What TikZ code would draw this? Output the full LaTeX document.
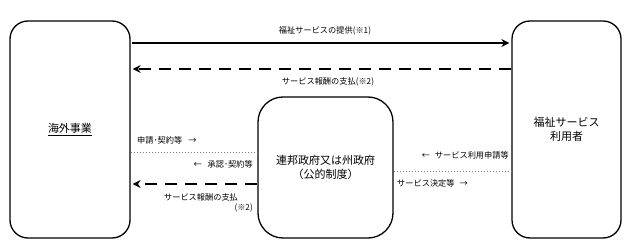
\documentclass[tikz,border=0pt]{standalone}
\usepackage{fontspec}
\setmainfont{Noto Sans CJK JP}
\usetikzlibrary{arrows.meta}

\begin{document}
\begin{tikzpicture}[x=1pt, y=-1pt,
  box/.style={draw, line width=1.3pt, rounded corners=18pt, align=center,
              inner sep=0pt, font=\fontsize{11}{14}\selectfont},
  arr/.style={line width=2.2pt, -{Stealth[length=8pt, width=8pt]}},
  darr/.style={arr, dash pattern=on 12pt off 8pt},
  dot/.style={gray, line width=0.6pt, dash pattern=on 1pt off 2pt},
  lbl/.style={inner sep=0pt, font=\fontsize{8.2}{10}\selectfont}]
\useasboundingbox (0,0) rectangle (630,246);

%% the three parties
\node[box, minimum width=120pt, minimum height=217pt] (jigyo)   at (70,129.5)  {\underline{海外事業}};
\node[box, minimum width=109pt, minimum height=217pt] (riyosha) at (566.5,129.5) {福祉サービス\\利用者};
\node[box, rounded corners=25pt, minimum width=135pt, minimum height=141pt]
      (seifu) at (325.5,167.5) {連邦政府又は州政府\\（公的制度）};

%% top: service and payment
\draw[arr, shorten <=1.5pt, shorten >=2pt] (jigyo.east |- 0,43) -- (riyosha.west |- 0,43);
\draw[darr, shorten >=2pt] (riyosha.west |- 0,69) -- (jigyo.east |- 0,69);
\node[lbl] (teikyo) at (325,31) {福祉サービスの提供(※1)};
\node[lbl] (shiharai1) at (328,82) {サービス報酬の支払(※2)};

%% lower left: business and government
\draw[dot] (jigyo.east |- 0,152) -- (seifu.west |- 0,152);
\draw[darr, shorten >=2pt] (seifu.west |- 0,184) -- (jigyo.east |- 0,184);
\node[lbl, anchor=west] (shinsei) at (137,140) {申請･契約等\hspace{6pt}→};
\node[lbl, anchor=east] (shonin)  at (253,164) {←\hspace{6pt}承認･契約等};
\node[lbl] (shiharai2) at (201,197) {サービス報酬の支払};
\node[lbl, anchor=east] (kome2) at (253,208) {(※2)};

%% lower right: government and user
\draw[dot] (seifu.east |- 0,171) -- (riyosha.west |- 0,171);
\node[lbl, anchor=east] (riyoshinsei) at (509,155) {←\hspace{5pt}サービス利用申請等};
\node[lbl, anchor=west] (kettei) at (397,183) {サービス決定等\hspace{5pt}→};
\end{tikzpicture}
\end{document}
